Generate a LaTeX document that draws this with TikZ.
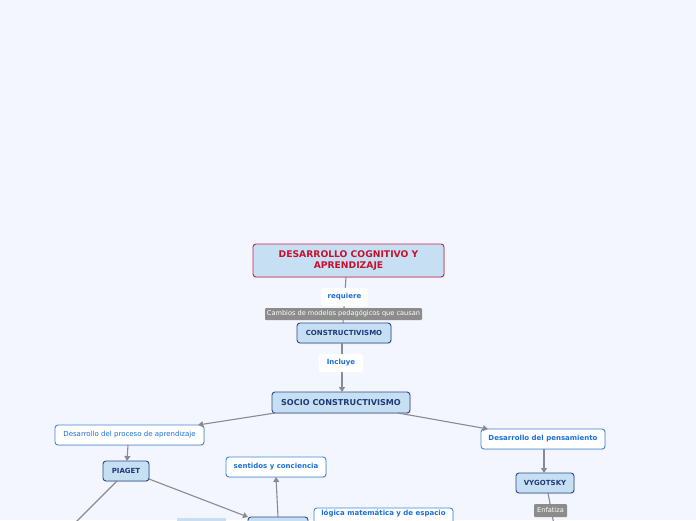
\documentclass[tikz,border=0pt]{standalone}
\usepackage{fontspec}
\setmainfont{DejaVu Sans}
\usetikzlibrary{arrows.meta,shadows}
\definecolor{bgc}{HTML}{F3F6FE}
\definecolor{lbfill}{HTML}{C6DFF3}
\definecolor{navy}{HTML}{2B4A8C}
\definecolor{navytxt}{HTML}{1E3A78}
\definecolor{crim}{HTML}{C8234A}
\definecolor{crimtxt}{HTML}{C8102E}
\definecolor{bborder}{HTML}{3D8AE0}
\definecolor{btxt}{HTML}{1A6FD8}
\definecolor{glab}{HTML}{8C8C8C}
\definecolor{linec}{HTML}{8A8A90}
\tikzset{
  every node/.style={inner sep=0pt, outer sep=0pt, align=center},
  sh/.style={drop shadow={opacity=0.18, shadow xshift=0.8pt, shadow yshift=-1pt}},
  titlebox/.style={draw=crim, fill=lbfill, line width=0.9pt, rounded corners=3pt, text=crimtxt,
     font=\fontsize{9.2}{10.5}\selectfont\bfseries, sh},
  mainbox/.style={draw=navy, fill=lbfill, line width=0.9pt, rounded corners=3pt, text=navytxt,
     font=\fontsize{7}{8}\selectfont\bfseries, sh},
  whitebox/.style={draw=bborder, fill=white, line width=0.9pt, rounded corners=3pt, text=btxt,
     font=\fontsize{7}{8}\selectfont\bfseries, sh},
  whitelight/.style={whitebox, font=\fontsize{7}{8}\selectfont},
  linklab/.style={fill=white, rounded corners=2pt, text=btxt, font=\fontsize{7}{8}\selectfont\bfseries},
  graylab/.style={fill=glab, rounded corners=1pt, text=white, font=\fontsize{6.6}{8}\selectfont},
  conn/.style={draw=linec, line width=1.1pt},
  arr/.style={conn, -{Triangle[length=5pt,width=6pt]}},
}
\begin{document}
\begin{tikzpicture}[x=1pt,y=-1pt]
\useasboundingbox (0,0) rectangle (696,520);
\fill[bgc] (0,0) rectangle (696,520);
\clip (0,0) rectangle (696,520);

% nodes
\node[titlebox, minimum width=191pt, minimum height=33pt] (title) at (348.5,260.5)
  {DESARROLLO COGNITIVO Y\\APRENDIZAJE};
\node[mainbox, minimum width=94pt, minimum height=20pt] (cons) at (344,333) {CONSTRUCTIVISMO};
\node[mainbox, minimum width=138pt, minimum height=21pt, font=\fontsize{8.1}{9}\selectfont\bfseries] (socio) at (341,402.5) {SOCIO CONSTRUCTIVISMO};
\node[whitelight, minimum width=149pt, minimum height=20pt] (dpa) at (129.5,435) {Desarrollo del proceso de aprendizaje};
\node[whitebox, minimum width=124pt, minimum height=20pt] (dp) at (543,439) {Desarrollo del pensamiento};
\node[mainbox, minimum width=46pt, minimum height=20pt] (piaget) at (126,471) {PIAGET};
\node[whitebox, minimum width=100pt, minimum height=20pt] (sent) at (276,467) {sentidos y conciencia};
\node[mainbox, minimum width=58pt, minimum height=20pt] (vyg) at (545,483) {VYGOTSKY};
\node[whitebox, minimum width=139pt, text height=5.2pt, text depth=10.8pt, inner ysep=2pt,
  anchor=north] (logica) at (383.5,508) {lógica matemática y de espacio};
\node[mainbox, minimum width=60pt, minimum height=20pt] (bbox) at (278,527) {};
\node[fill=lbfill, minimum width=49pt, minimum height=16pt] (lbl) at (201.5,526) {};
\coordinate (offl) at (62,536);
\coordinate (offv) at (555,530);

% connectors
\draw[conn] (title.south -| 346,0) -- (cons.north -| 343,0);
\draw[arr] (cons.south -| 342,0) -- (socio.north -| 342,0);
\draw[arr] (socio.south -| 275,0) -- (dpa.north -| 198,0);
\draw[arr] (socio.south -| 398,0) -- (dp.north -| 488,0);
\draw[arr] (dpa.south -| 128,0) -- (piaget.north -| 127,0);
\draw[conn] (piaget.south -| 117,0) -- (offl);
\draw[arr] (piaget.east |- 0,479) -- (bbox.north west);
\draw[arr] (bbox.north -| 278,0) -- (sent.south -| 276,0);
\draw[arr] (dp.south -| 544,0) -- (vyg.north -| 544,0);
\draw[conn] (vyg.south -| 548,0) -- (offv);

% link labels
\node[linklab, minimum width=47pt, minimum height=18pt] (req) at (344.5,297) {requiere};
\node[graylab, minimum width=157pt, minimum height=12pt] (camb) at (343.5,314) {Cambios de modelos pedagógicos que causan};
\node[linklab, minimum width=44pt, minimum height=18pt] (inc) at (341,363) {Incluye};
\node[graylab, minimum width=33pt, minimum height=13pt] (enf) at (550.5,510.5) {Enfatiza};
\end{tikzpicture}
\end{document}
